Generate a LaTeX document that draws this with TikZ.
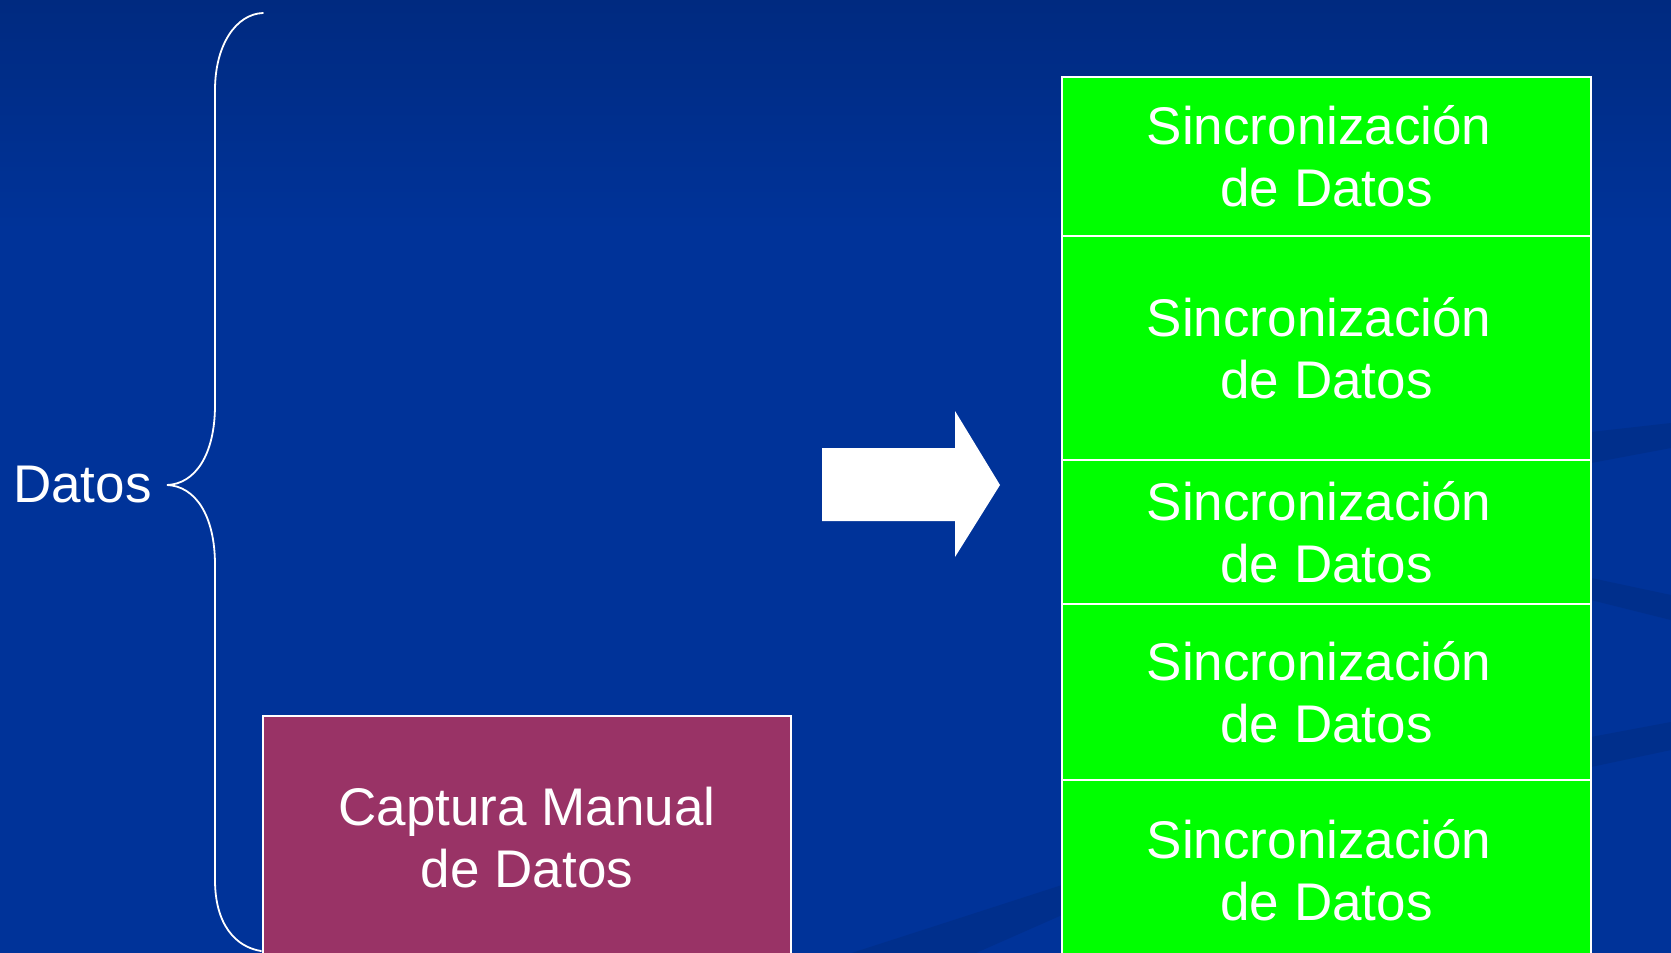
\documentclass[tikz,border=0pt]{standalone}
\usepackage{fontspec}
\setmainfont{Liberation Sans}
\definecolor{bgtop}{HTML}{002A80}
\definecolor{bgmain}{HTML}{003399}
\definecolor{bgdark}{HTML}{002F8C}
\definecolor{syncgreen}{HTML}{00FF00}
\definecolor{capmaroon}{HTML}{993366}
\newcommand{\synctext}{Sincronización\hspace*{0.278em}\\de Datos}
\tikzset{
  txt/.style={text=white, font=\fontsize{26.5}{31}\selectfont, align=center, inner sep=0pt},
  gbox/.style={txt, draw=white, line width=0.8pt, fill=syncgreen, minimum width=264.5pt},
  mbox/.style={txt, draw=white, line width=0.8pt, fill=capmaroon, minimum width=264pt},
  bracestyle/.style={draw=white, line width=0.9pt, line cap=round},
}
\begin{document}
\begin{tikzpicture}[x=0.5pt,y=-0.5pt]
\useasboundingbox (0,0) rectangle (1671,953);
\begin{scope}
\clip (0,0) rectangle (1671,953);
% background
\fill[bgmain] (0,0) rectangle (1671,953);
\shade[top color=bgtop, bottom color=bgmain] (0,0) rectangle (1671,230);
% subtle streaks
\fill[bgdark] (1591,432) -- (1671,423) -- (1671,448) -- (1591,463) -- cycle;
\fill[bgdark] (1591,578) -- (1671,595) -- (1671,620) -- (1591,600) -- cycle;
\fill[bgdark] (1591,737) -- (1671,722) -- (1671,750) -- (1591,767) -- cycle;
\fill[bgdark] (830,960) -- (1062,885) -- (1062,915) -- (960,960) -- cycle;
% brace
\draw[bracestyle] (263,13) .. controls (236,14) and (215,45) .. (215,90)
  -- (215,405) .. controls (215,455) and (195,484) .. (167,485)
  .. controls (195,486) and (215,515) .. (215,565)
  -- (215,880) .. controls (215,925) and (236,947) .. (261,951);
\node[txt, anchor=east] (datos) at (152,485) {Datos};
% captura box
\node[mbox, minimum height=122pt] (captura) at (527,838) {Captura Manual\\de Datos};
% arrow
\fill[white] (822,448) -- (955,448) -- (955,411) -- (1000,485) -- (955,557) -- (955,521) -- (822,521) -- cycle;
% green column
\node[gbox, minimum height=79.5pt] (s1) at (1326.5,156.5) {\synctext};
\node[gbox, minimum height=112pt] (s2) at (1326.5,348) {\synctext};
\node[gbox, minimum height=72pt] (s3) at (1326.5,532) {\synctext};
\node[gbox, minimum height=88pt] (s4) at (1326.5,692) {\synctext};
\node[gbox, minimum height=90pt] (s5) at (1326.5,870) {\synctext};
\end{scope}
\end{tikzpicture}
\end{document}
